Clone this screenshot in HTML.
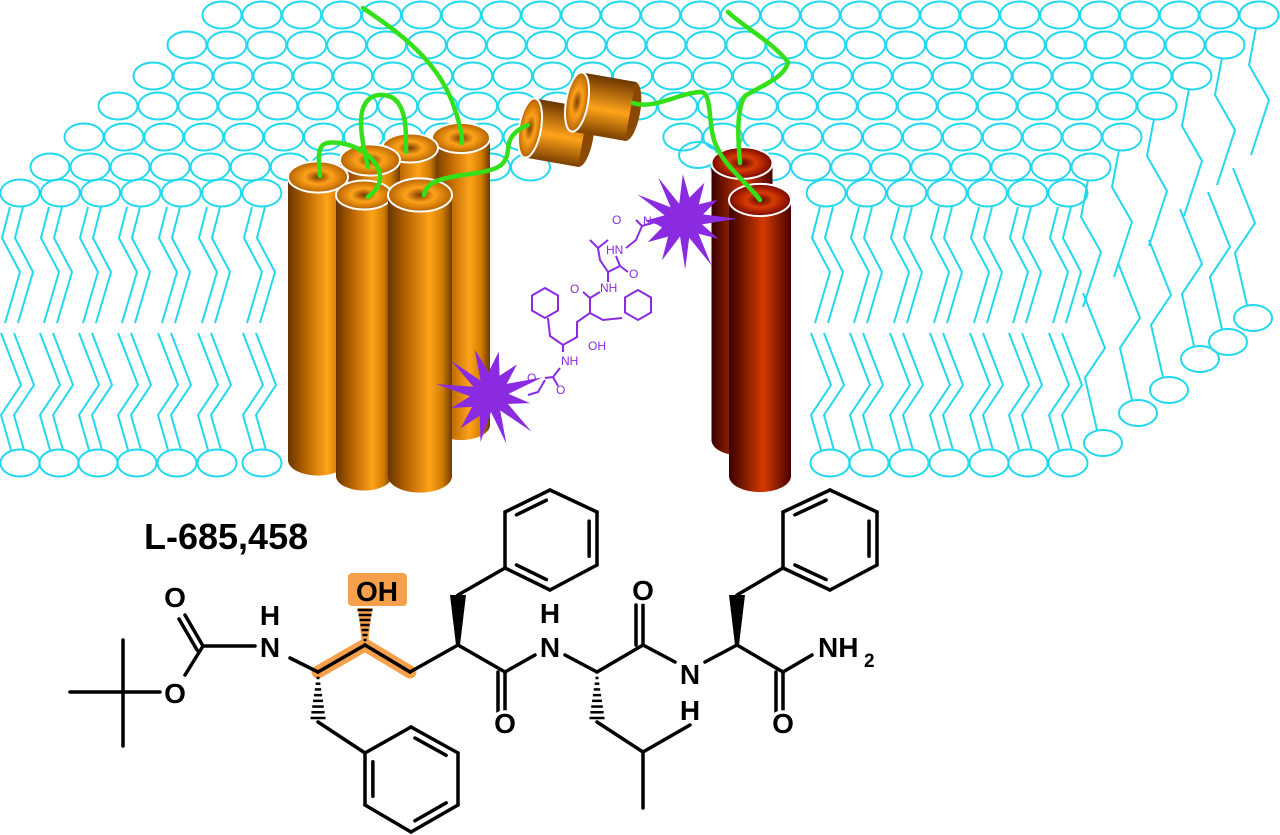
<!DOCTYPE html>
<html><head><meta charset="utf-8"><style>
html,body{margin:0;padding:0;background:#fff;}
svg{display:block;}
.lbl{font-family:"Liberation Sans",sans-serif;font-size:28px;font-weight:bold;fill:#000;text-anchor:middle;paint-order:stroke;stroke:#fff;stroke-width:7px;}
.pl{font-family:"Liberation Sans",sans-serif;font-size:12px;fill:#8a2be2;}
</style></head><body>
<svg id="s" width="1280" height="835" viewBox="0 0 1280 835" xmlns="http://www.w3.org/2000/svg">
<defs>
<linearGradient id="ob" x1="0" x2="1" y1="0" y2="0">
<stop offset="0" stop-color="#6a3500"/><stop offset="0.3" stop-color="#b86400"/><stop offset="0.65" stop-color="#ffa31a"/><stop offset="0.85" stop-color="#d07c00"/><stop offset="1" stop-color="#6e3a00"/></linearGradient>
<radialGradient id="ot"><stop offset="0" stop-color="#7a3c00"/><stop offset="0.45" stop-color="#ffa21a"/><stop offset="1" stop-color="#b46200"/></radialGradient>
<linearGradient id="rb" x1="0" x2="1" y1="0" y2="0">
<stop offset="0" stop-color="#3a0000"/><stop offset="0.55" stop-color="#d23a00"/><stop offset="1" stop-color="#4a0000"/></linearGradient>
<radialGradient id="rt"><stop offset="0" stop-color="#5a0000"/><stop offset="0.45" stop-color="#d83c00"/><stop offset="1" stop-color="#7a0800"/></radialGradient>
<linearGradient id="sb" x1="0" x2="0" y1="0" y2="1">
<stop offset="0" stop-color="#6a3500"/><stop offset="0.55" stop-color="#ffa31a"/><stop offset="1" stop-color="#7a4000"/></linearGradient>
</defs>
<g id="mem" fill="none" stroke="#22d8ee" stroke-width="2"></g>
<g id="cyl"></g>
<g id="small"></g>
<g fill="none" stroke="#33e01a" stroke-width="4.5" stroke-linecap="round">
<path d="M363,8 C395,30 440,60 455,110 C462,130 462,140 462,143"/>
<path d="M368,167 C362,140 352,100 378,95 C408,92 406,130 406,152"/>
<path d="M320,176 C318,150 316,140 340,143 C365,147 382,165 380,180 C378,190 370,195 368,197"/>
<path d="M424,195 C426,182 440,178 470,174 C500,170 506,165 508,150 C508,138 515,130 528,125"/>
<path d="M633,103 C655,110 680,92 702,92 C712,96 708,120 714,140 C722,165 745,180 760,200"/>
<path d="M728,12 C745,28 770,40 788,62 C785,78 760,86 745,96 C736,110 738,140 740,163"/>
</g>
<g id="purple" stroke="#8a2be2" stroke-width="2" fill="none"></g>
<g fill="#8a2be2" id="stars"></g>
<g id="chem"></g>
</svg>
<script>
var NS="http://www.w3.org/2000/svg";
function el(p,t,a){var e=document.createElementNS(NS,t);for(var k in a)e.setAttribute(k,a[k]);p.appendChild(e);return e;}
var mem=document.getElementById('mem');
function ell(x,y){el(mem,'ellipse',{cx:x,cy:y,rx:19.5,ry:13.5});}
var rows=[[15,222,1259],[45,187,1225],[76,153,1192],[106,118,1157],[137,84,1122,600,680],[167,50,1091,560,700],[193,20,1068,275,820]];
rows.forEach(function(r){var n=Math.round((r[2]-r[1])/40),st=(r[2]-r[1])/n;for(var i=0;i<=n;i++){var x=r[1]+i*st;if(r.length>3&&x>r[3]&&x<r[4])continue;ell(x,r[0]);}});
el(mem,'ellipse',{cx:698,cy:155,rx:19,ry:13});
function pl(pts){el(mem,'polyline',{points:pts.map(function(p){return p.join(',')}).join(' ')});}
function lipid(xc){
 ell(xc,463);
 [0,13].forEach(function(d){
  pl([[xc-10+d,207],[xc-18+d,238],[xc+d,272],[xc-15+d,323]]);
  pl([[xc-19+d,333],[xc+1+d,385],[xc-19+d,415],[xc-9+d,450]]);
 });}
[20,59,98,137,177,217,262].forEach(lipid);
[830,869,909,949,989,1028,1068].forEach(lipid);
var tops=[[1259,15],[1225,45],[1192,76],[1157,106],[1122,137],[1091,167]];
var bots=[[1253,318],[1228,342],[1200,359],[1169,390],[1138,413],[1103,443]];
for(var i=0;i<6;i++){var t=tops[i],b=bots[i];
 pl([[t[0]-3,t[1]+13],[t[0]-10,t[1]+50],[t[0]+10,t[1]+85],[t[0]-8,t[1]+140]]);
 pl([[b[0]-6,b[1]-13],[b[0]-18,b[1]-65],[b[0]+2,b[1]-95],[b[0]-20,b[1]-150]]);
 el(mem,'ellipse',{cx:b[0],cy:b[1],rx:19,ry:13});}
var cg=document.getElementById('cyl');
function cyl(cx,ty,by,w,red){var r=w/2,ry=w*0.26,b=red?'url(#rb)':'url(#ob)',t=red?'url(#rt)':'url(#ot)';
 el(cg,'ellipse',{cx:cx,cy:by,rx:r,ry:ry,fill:b});
 el(cg,'rect',{x:cx-r,y:ty,width:w,height:by-ty,fill:b});
 el(cg,'ellipse',{cx:cx,cy:ty,rx:r,ry:ry,fill:t,stroke:'#fff','stroke-width':2});}
cyl(461,138,425,58);cyl(410,148,430,56);cyl(370,160,440,60);cyl(318,177,460,60);cyl(364,195,476,56);cyl(420,195,476,64);
cyl(742,163,440,61,1);cyl(760,200,476,62,1);
var sg=document.getElementById('small');
function sc(x,y){var g=el(sg,'g',{transform:'translate('+x+','+y+') rotate(10)'});
 el(g,'ellipse',{cx:54,cy:0,rx:10,ry:30,fill:'#8a4800'});
 el(g,'rect',{x:0,y:-30,width:54,height:60,fill:'url(#sb)'});
 el(g,'ellipse',{cx:0,cy:0,rx:11,ry:30,fill:'url(#ot)',stroke:'#fff','stroke-width':2});}
sc(530,128);sc(577,102);
var stg=document.getElementById('stars');
function star(cx,cy,R,r,n,rot){var p=[];for(var i=0;i<2*n;i++){var a=rot+i*Math.PI/n,rr=(i%2?r:R)*(0.85+0.3*((i*7)%5)/4);p.push((cx+rr*Math.cos(a)).toFixed(1)+','+(cy+rr*Math.sin(a)).toFixed(1));}el(stg,'polygon',{points:p.join(' ')});}
var pg=document.getElementById('purple');
function pp(pts){el(pg,'polyline',{points:pts});}
function hex(cx,cy,r){var p=[];for(var i=0;i<6;i++){var a=Math.PI/6+i*Math.PI/3;p.push((cx+r*Math.cos(a)).toFixed(1)+','+(cy+r*Math.sin(a)).toFixed(1));}el(pg,'polygon',{points:p.join(' ')});}
hex(545,303,15);hex(638,305,15);
pp("548,318 550,336 563,345 577,337 577,322 590,313 590,298 583,292");
pp("590,313 603,320 622,318");
pp("563,345 563,352");pp("560,368 553,377 545,378");pp("553,377 558,386");
pp("545,380 538,392 528,395");pp("590,298 600,292");
pp("608,282 608,272 620,266 628,272");pp("608,272 600,260 598,248 590,240");pp("598,248 608,240");
pp("620,266 616,256");pp("626,248 636,240 642,226 636,220");pp("642,226 655,222 668,230");
var txt=[["O",527,382],["O",556,394],["NH",561,365],["OH",588,350],["O",570,293],["NH",600,292],["HN",606,254],["O",629,278],["O",612,224],["N",643,225]];
txt.forEach(function(t){var e=el(pg,'text',{x:t[1],y:t[2],'class':'pl',stroke:'none'});e.textContent=t[0];});
star(490,395,48,20,12,0.2);star(684,220,46,20,12,0.5);
var ch=document.getElementById('chem');
el(ch,'rect',{x:348,y:573,width:59,height:33,rx:4,fill:'#f7a04c'});
el(ch,'polyline',{points:'318,672 365,645 410,672',fill:'none',stroke:'#f7a04c','stroke-width':13,'stroke-linecap':'round','stroke-linejoin':'round'});
el(ch,'polygon',{points:'358,608 372,608 368,645 362,645',fill:'#f7a04c'});
var bonds=[[70,692,160,692],[123,640,123,746],[185,675,203,646],[203,646,185,615],[197,650,179,619],[203,646,255,646],[290,658,318,672],[318,672,365,645],[365,645,410,672],[410,672,458,645],[458,645,505,672],[505,672,505,712],[498,672,498,712],[505,672,535,655],[565,655,597,672],[597,672,643,645],[643,645,643,605],[636,645,636,605],[643,645,675,662],[705,662,737,645],[737,645,783,672],[783,672,783,712],[776,672,776,712],[783,672,812,655],[318,722,365,753],[458,595,505,568],[597,722,643,752],[643,752,690,725],[643,752,643,808],[737,595,783,568]];
function ring(v,d){for(var i=0;i<6;i++){var a=v[i],b=v[(i+1)%6];bonds.push([a[0],a[1],b[0],b[1]]);}
 var cx=0,cy=0;v.forEach(function(p){cx+=p[0]/6;cy+=p[1]/6;});
 d.forEach(function(i){var a=v[i],b=v[(i+1)%6];function s(p){return [p[0]+(cx-p[0])*0.17,p[1]+(cy-p[1])*0.17];}
  var A=s(a),B=s(b),dx=(B[0]-A[0])*0.1,dy=(B[1]-A[1])*0.1;bonds.push([A[0]+dx,A[1]+dy,B[0]-dx,B[1]-dy]);});}
ring([[365,753],[411,727],[458,753],[458,805],[411,832],[365,805]],[1,3,5]);
ring([[505,568],[505,512],[550,490],[597,512],[597,565],[550,590]],[1,3,5]);
ring([[783,568],[783,512],[830,490],[877,512],[877,565],[830,590]],[1,3,5]);
bonds.forEach(function(b){el(ch,'line',{x1:b[0],y1:b[1],x2:b[2],y2:b[3],stroke:'#000','stroke-width':3.5,'stroke-linecap':'round'});});
function hash(x,y1,y2,n){for(var i=0;i<=n;i++){var y=y1+(y2-y1)*i/n,w=1.5+6*i/n;el(ch,'line',{x1:x-w,y1:y,x2:x+w,y2:y,stroke:'#000','stroke-width':2.5});}}
hash(318,678,718,7);hash(365,640,610,6);hash(597,678,718,7);
el(ch,'polygon',{points:'456,645 460,645 466,595 450,595',fill:'#000'});
el(ch,'polygon',{points:'735,645 739,645 745,595 729,595',fill:'#000'});
var labs=[["O",175,703],["O",175,607],["N",270,657],["H",270,625],["N",550,657],["H",550,623],["O",505,733],["O",643,600],["N",690,684],["H",690,720],["O",783,733]];
labs.forEach(function(l){var e=el(ch,'text',{x:l[1],y:l[2],'class':'lbl'});e.textContent=l[0];});
var oh=el(ch,'text',{x:377,y:601,'font-family':'Liberation Sans, sans-serif','font-size':28,'font-weight':'bold','text-anchor':'middle',fill:'#000'});oh.textContent="OH";
var nh=el(ch,'text',{x:818,y:657,'font-family':'Liberation Sans, sans-serif','font-size':28,'font-weight':'bold',fill:'#000'});nh.textContent="NH";
var two=el(ch,'text',{x:864,y:667,'font-family':'Liberation Sans, sans-serif','font-size':19,'font-weight':'bold',fill:'#000'});two.textContent="2";
var tt=el(ch,'text',{x:144,y:549,'font-family':'Liberation Sans, sans-serif','font-size':36,'font-weight':'bold',fill:'#000'});tt.textContent="L-685,458";
</script>
</body></html>
